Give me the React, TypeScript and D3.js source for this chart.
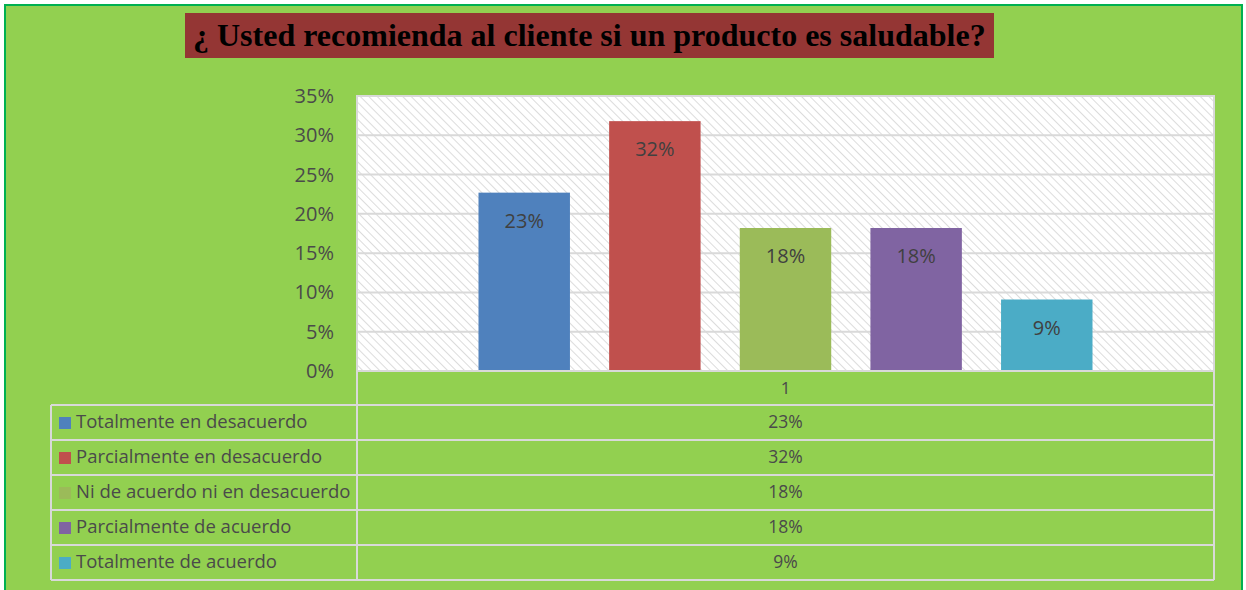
import React from "react";
import * as d3 from "d3";

const categories = [
  "Totalmente en desacuerdo",
  "Parcialmente en desacuerdo",
  "Ni de acuerdo ni en desacuerdo",
  "Parcialmente de acuerdo",
  "Totalmente de acuerdo",
];
const values = [0.227, 0.318, 0.182, 0.182, 0.091];
const colors = ["#4F81BD", "#C0504D", "#9BBB59", "#8064A2", "#4BACC6"];
const yTicks = [0, 0.05, 0.1, 0.15, 0.2, 0.25, 0.3, 0.35];
const groupLabel = "1";
const title = "¿ Usted recomienda al cliente si un producto es saludable?";

export default function App() {
  const W = 1246, H = 590;
  const plot = { left: 357, right: 1214, top: 96, bottom: 371 };
  const y = d3.scaleLinear().domain([0, 0.35]).range([plot.bottom, plot.top]);
  const x = d3
    .scaleBand<string>()
    .domain(categories)
    .range([plot.left, plot.right])
    .paddingInner(0.3)
    .paddingOuter(0.93);
  const fmt = d3.format(".0%");
  const font = "'Open Sans', sans-serif";
  const txt = "#4a4a4a";
  const grid = "#D9D9D9";
  const headerBottom = 405;
  const rowH = 35;

  return (
    <svg width={W} height={H} style={{ position: "absolute", left: 0, top: 0 }}>
      <defs>
        <pattern id="hatch" width="6" height="6" patternUnits="userSpaceOnUse" patternTransform="rotate(-45)">
          <rect width="6" height="6" fill="#ffffff" />
          <line x1="0" y1="0" x2="0" y2="6" stroke="#dcdcdc" strokeWidth="2" />
        </pattern>
      </defs>
      <rect x={0} y={0} width={W} height={H} fill="#ffffff" />
      <rect x={5} y={5} width={1237} height={H} fill="#92D050" stroke="#00B050" strokeWidth={2} />
      {/* title */}
      <rect x={185} y={13} width={809} height={45} fill="#943634" />
      <text x={193} y={46} textAnchor="start" fontFamily="'Liberation Serif', 'Times New Roman', serif" fontWeight="bold" fontSize={32} fill="#000">
        {title}
      </text>
      {/* plot area */}
      <rect x={plot.left} y={plot.top} width={plot.right - plot.left} height={plot.bottom - plot.top} fill="url(#hatch)" stroke={grid} strokeWidth={2} />
      {yTicks.map((t) => (
        <g key={t}>
          {t > 0 && t < 0.35 && (
            <line x1={plot.left} x2={plot.right} y1={y(t)} y2={y(t)} stroke={grid} strokeWidth={2} />
          )}
          <text x={334} y={y(t) + 7} textAnchor="end" fontFamily={font} fontSize={20} fill={txt}>
            {fmt(t)}
          </text>
        </g>
      ))}
      {categories.map((c, i) => (
        <g key={c}>
          <rect x={x(c)} y={y(values[i])} width={x.bandwidth()} height={plot.bottom - y(values[i])} fill={colors[i]} />
          <text x={(x(c) as number) + x.bandwidth() / 2} y={y(values[i]) + 35} textAnchor="middle" fontFamily={font} fontSize={20} fill="#404040">
            {fmt(values[i])}
          </text>
        </g>
      ))}
      {/* data table */}
      <line x1={plot.left} x2={plot.right} y1={plot.bottom} y2={plot.bottom} stroke={grid} strokeWidth={2} />
      <line x1={plot.left} x2={plot.left} y1={plot.bottom} y2={headerBottom + rowH * 5} stroke={grid} strokeWidth={2} />
      <line x1={plot.right} x2={plot.right} y1={plot.bottom} y2={headerBottom + rowH * 5} stroke={grid} strokeWidth={2} />
      <line x1={51} x2={51} y1={headerBottom} y2={headerBottom + rowH * 5} stroke={grid} strokeWidth={2} />
      <text x={(plot.left + plot.right) / 2} y={394} textAnchor="middle" fontFamily={font} fontSize={17} fill={txt}>
        {groupLabel}
      </text>
      {categories.map((c, i) => {
        const top = headerBottom + rowH * i;
        return (
          <g key={c}>
            <line x1={51} x2={plot.right} y1={top} y2={top} stroke={grid} strokeWidth={2} />
            <rect x={59} y={top + 12} width={12} height={12} fill={colors[i]} />
            <text x={76} y={top + 23} fontFamily={font} fontSize={18.5} fill={txt}>
              {c}
            </text>
            <text x={(plot.left + plot.right) / 2} y={top + 23} textAnchor="middle" fontFamily={font} fontSize={17.5} fill={txt}>
              {fmt(values[i])}
            </text>
          </g>
        );
      })}
      <line x1={51} x2={plot.right} y1={headerBottom + rowH * 5} y2={headerBottom + rowH * 5} stroke={grid} strokeWidth={2} />
    </svg>
  );
}
